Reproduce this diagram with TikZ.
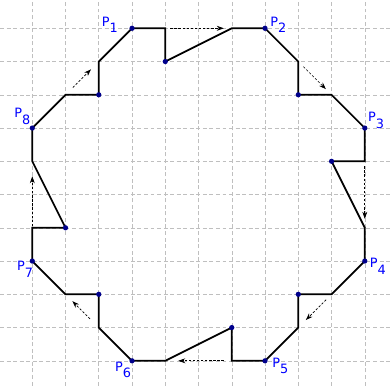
\documentclass[tikz,border=0pt]{standalone}
\usepackage{fontspec}
\setmainfont{DejaVu Sans}
\usetikzlibrary{arrows.meta}
\newcommand{\plab}[1]{P\raisebox{-0.48em}{#1}}
\begin{document}
\begin{tikzpicture}[x=1cm,y=1cm,
  gridline/.style={draw=black!25, line width=0.5pt, dash pattern=on 3.4pt off 2.2pt},
  edge/.style={draw=black, line width=1.5pt, line join=miter},
  hint/.style={draw=black, line width=0.6pt, dash pattern=on 2pt off 1.5pt, -{Stealth[length=6pt,width=4.2pt]}},
  dot/.style={circle, fill=blue!55!black, inner sep=0pt, minimum size=4.5pt},
  lab/.style={text=blue, inner sep=0pt, font=\fontsize{11}{13}\selectfont}
]
\useasboundingbox (-0.971,-0.743) rectangle (10.818,10.851);
\foreach \k in {0,...,10} {
  \draw[gridline] (\k,-0.743) -- (\k,10.851);
  \draw[gridline] (-0.971,\k) -- (10.818,\k);
}
% polygon vertices
\coordinate (P1) at (3,10);
\coordinate (a) at (4,10);
\coordinate (b) at (4,9);
\coordinate (c) at (6,10);
\coordinate (P2) at (7,10);
\coordinate (d) at (8,9);
\coordinate (e) at (8,8);
\coordinate (f) at (9,8);
\coordinate (P3) at (10,7);
\coordinate (g) at (10,6);
\coordinate (h) at (9,6);
\coordinate (i) at (10,4);
\coordinate (P4) at (10,3);
\coordinate (j) at (9,2);
\coordinate (k) at (8,2);
\coordinate (l) at (8,1);
\coordinate (P5) at (7,0);
\coordinate (m) at (6,0);
\coordinate (n) at (6,1);
\coordinate (o) at (4,0);
\coordinate (P6) at (3,0);
\coordinate (q) at (2,1);
\coordinate (r) at (2,2);
\coordinate (s) at (1,2);
\coordinate (P7) at (0,3);
\coordinate (t) at (0,4);
\coordinate (u) at (1,4);
\coordinate (v) at (0,6);
\coordinate (P8) at (0,7);
\coordinate (w) at (1,8);
\coordinate (x) at (2,8);
\coordinate (y) at (2,9);

\draw[edge] (P1) -- (a) -- (b) -- (c) -- (P2) -- (d) -- (e) -- (f) -- (P3)
  -- (g) -- (h) -- (i) -- (P4) -- (j) -- (k) -- (l) -- (P5) -- (m) -- (n)
  -- (o) -- (P6) -- (q) -- (r) -- (s) -- (P7) -- (t) -- (u) -- (v) -- (P8)
  -- (w) -- (x) -- (y) -- cycle;

% dashed hint arrows
\draw[hint, shorten <=0.15cm, shorten >=0.24cm] (a) -- (c);
\draw[hint, shorten <=0.22cm, shorten >=0.24cm] (d) -- (f);
\draw[hint, shorten <=0.15cm, shorten >=0.27cm] (g) -- (i);
\draw[hint, shorten <=0.23cm, shorten >=0.32cm] (j) -- (l);
\draw[hint, shorten <=0.24cm, shorten >=0.39cm] (m) -- (o);
\draw[hint, shorten <=0.37cm, shorten >=0.29cm] (q) -- (s);
\draw[hint, shorten <=0.05cm, shorten >=0.45cm] (t) -- (v);
\draw[hint, shorten <=0.31cm, shorten >=0.33cm] (w) -- (y);

% dots
\foreach \p in {P1,P2,P3,P4,P5,P6,P7,P8,b,e,h,k,n,r,u,x}
  \node[dot] (dot\p) at (\p) {};

% labels
\node[lab, xshift=-0.67cm, yshift=0.10cm] (L1) at (P1) {\plab{1}};
\node[lab, xshift=0.40cm, yshift=0.10cm] (L2) at (P2) {\plab{2}};
\node[lab, xshift=0.34cm, yshift=0.23cm] (L3) at (P3) {\plab{3}};
\node[lab, xshift=0.39cm, yshift=-0.16cm] (L4) at (P4) {\plab{4}};
\node[lab, xshift=0.46cm, yshift=-0.15cm] (L5) at (P5) {\plab{5}};
\node[lab, xshift=-0.27cm, yshift=-0.28cm] (L6) at (P6) {\plab{6}};
\node[lab, xshift=-0.22cm, yshift=-0.25cm] (L7) at (P7) {\plab{7}};
\node[lab, xshift=-0.30cm, yshift=0.35cm] (L8) at (P8) {\plab{8}};
\end{tikzpicture}
\end{document}
